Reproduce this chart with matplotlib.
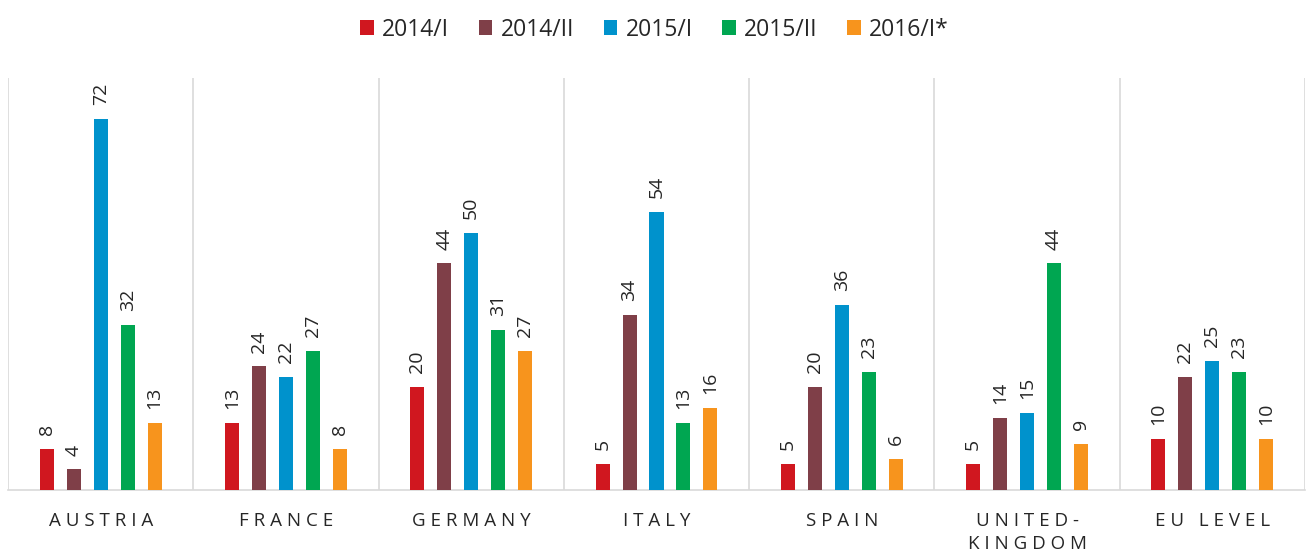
import matplotlib
matplotlib.use("Agg")
import matplotlib.pyplot as plt
import numpy as np

categories = ["AUSTRIA", "FRANCE", "GERMANY", "ITALY", "SPAIN", "UNITED-\nKINGDOM", "EU LEVEL"]
series_names = ["2014/I", "2014/II", "2015/I", "2015/II", "2016/I*"]
values = {
    "2014/I":  [8, 13, 20, 5, 5, 5, 10],
    "2014/II": [4, 24, 44, 34, 20, 14, 22],
    "2015/I":  [72, 22, 50, 54, 36, 15, 25],
    "2015/II": [32, 27, 31, 13, 23, 44, 23],
    "2016/I*": [13, 8, 27, 16, 6, 9, 10],
}
colors = ["#D0171F", "#7F3F48", "#0092CC", "#00A651", "#F7941D"]

plt.rcParams['font.family'] = ['Open Sans', 'DejaVu Sans']

fig = plt.figure(figsize=(13.09, 5.57), dpi=100)
ax = fig.add_axes([8/1309, (557-490)/557, (1305-8)/1309, (490-78)/557])

n = len(categories)
x = np.arange(n)
step = 0.1457
width = 0.0756
for i, (name, c) in enumerate(zip(series_names, colors)):
    offs = (i - 2) * step
    ax.bar(x + offs, values[name], width=width, color=c, label=name, zorder=3)
    for xi, v in zip(x + offs, values[name]):
        ax.annotate(str(v), (xi, v), xytext=(0, 10), textcoords="offset points",
                    rotation=90, ha="center", va="bottom", fontsize=14, color="#262626")

ax.set_xlim(-0.5, n - 0.5)
ax.set_ylim(0, 80)
for b in np.arange(-0.5, n, 1.0):
    ax.axvline(b, color="#D9D9D9", lw=1.2, zorder=1)
for s in ["top", "right", "left"]:
    ax.spines[s].set_visible(False)
ax.spines["bottom"].set_color("#D9D9D9")
ax.spines["bottom"].set_linewidth(1.2)
ax.set_yticks([])
ax.set_xticks(x)
spaced = ["\n".join(" ".join(list(line)) for line in c.split("\n")) for c in categories]
ax.set_xticklabels(spaced, fontsize=13.5, color="#262626", linespacing=1.35)
ax.tick_params(axis="x", length=0, pad=16)

leg = fig.legend(loc="upper center", bbox_to_anchor=(0.5, 1.005), ncol=5, frameon=False,
                 fontsize=16.5, handlelength=0.6, handleheight=0.6, handletextpad=0.35,
                 columnspacing=1.3, labelcolor="#262626")

fig.savefig("out.png", dpi=100)
